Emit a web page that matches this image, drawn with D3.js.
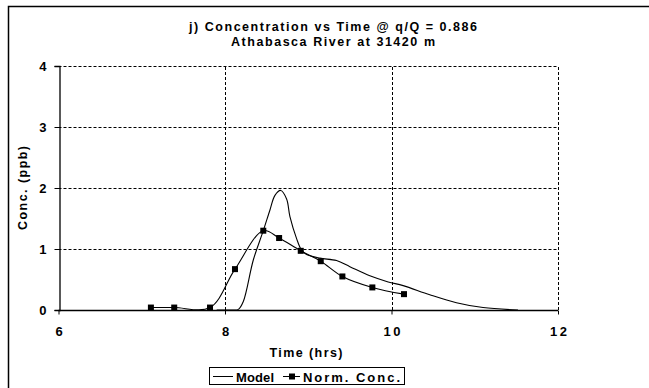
<!DOCTYPE html>
<html><head><meta charset="utf-8">
<script src="https://cdn.jsdelivr.net/npm/d3@7"></script>
<style>
body{margin:0;background:#fff;}
text{font-family:"Liberation Sans",Arial,sans-serif;font-weight:bold;fill:#000;}
</style></head><body>
<svg id="c" width="649" height="388"></svg>
<script>
const titleLines = ["j) Concentration vs Time @ q/Q = 0.886", "Athabasca River at 31420 m"];
const xTicks = [6, 8, 10, 12];
const yTicks = [0, 1, 2, 3, 4];
const modelTime = [7.90, 8.10, 8.16, 8.22, 8.34, 8.46, 8.54, 8.60, 8.67, 8.74, 8.78, 8.86, 8.92, 8.98, 9.14, 9.34, 9.50, 9.74, 9.96, 10.14, 10.46, 10.78, 11.10, 11.52];
const modelConc = [0, 0, 0.01, 0.14, 0.82, 1.30, 1.64, 1.88, 1.96, 1.82, 1.53, 1.17, 0.98, 0.91, 0.85, 0.81, 0.71, 0.56, 0.46, 0.40, 0.25, 0.12, 0.04, 0];
const obsTime = [7.11, 7.39, 7.82, 8.12, 8.46, 8.65, 8.91, 9.15, 9.41, 9.77, 10.15];
const obsConc = [0.04, 0.04, 0.04, 0.67, 1.30, 1.18, 0.97, 0.80, 0.55, 0.37, 0.26];
const seriesNames = ["Model", "Norm. Conc."];

const svg = d3.select("#c");
const x = d3.scaleLinear().domain([6, 12]).range([58.5, 558]);
const y = d3.scaleLinear().domain([0, 4]).range([310, 66]);

// stretch helper: reference text is rendered wider than Arial
function wide(sel, w) { return sel.attr("textLength", w).attr("lengthAdjust", "spacing"); }

// outer chart border (top + left visible)
svg.append("path").attr("d", "M8.5,400 L8.5,6.5 L660,6.5").attr("fill", "none").attr("stroke", "#000").attr("stroke-width", 1.5);

// gridlines
const g = svg.append("g");
yTicks.filter(d => d > 0).forEach(v => {
  g.append("line").attr("x1", x(6)).attr("x2", x(12)).attr("y1", Math.round(y(v)) + 0.5).attr("y2", Math.round(y(v)) + 0.5)
    .attr("stroke", "#000").attr("stroke-dasharray", "3,2").attr("stroke-width", 1);
});
xTicks.filter(d => d > 6).forEach(v => {
  g.append("line").attr("y1", y(0)).attr("y2", y(4)).attr("x1", Math.round(x(v)) + 0.5).attr("x2", Math.round(x(v)) + 0.5)
    .attr("stroke", "#000").attr("stroke-dasharray", "3,2").attr("stroke-width", 1);
});

// axes
const xAxis = d3.axisBottom(x).tickValues(xTicks).tickSize(4).tickFormat(d3.format("d"));
const yAxis = d3.axisLeft(y).tickValues(yTicks).tickSize(5).tickFormat(d3.format("d"));
const gx = svg.append("g").attr("transform", `translate(0,${Math.round(y(0)) + 0.5})`).call(xAxis);
const gy = svg.append("g").attr("transform", `translate(${Math.round(x(6)) + 0.5},0)`).call(yAxis);
[gx, gy].forEach(a => {
  a.select(".domain").attr("stroke", "#000").attr("stroke-width", 1.3);
  a.selectAll(".tick line").attr("stroke", "#000");
  a.selectAll(".tick text").style("font-size", "13px").style("font-family", "Liberation Sans, Arial, sans-serif").style("font-weight", "bold");
});
gx.select(".domain").attr("d", `M${x(6)},0H${x(12)}`);
gx.selectAll(".tick text").attr("dy", null).attr("y", 25).each(function(d) {
  if (String(d).length > 1) d3.select(this).attr("textLength", 17).attr("lengthAdjust", "spacing");
});
gy.selectAll(".tick text").attr("x", -13).attr("dy", "0.36em");

// lines
const modelData = modelTime.map((t, i) => [t, modelConc[i]]);
const obsData = obsTime.map((t, i) => [t, obsConc[i]]);
const line = d3.line().x(d => x(d[0])).y(d => y(d[1])).curve(d3.curveCatmullRom.alpha(0.5));
svg.append("path").attr("d", line(modelData)).attr("fill", "none").attr("stroke", "#000").attr("stroke-width", 1.1);
svg.append("path").attr("d", line(obsData)).attr("fill", "none").attr("stroke", "#000").attr("stroke-width", 1.1);
svg.selectAll("rect.m").data(obsData).enter().append("rect").attr("class", "m")
  .attr("x", d => x(d[0]) - 3).attr("y", d => y(d[1]) - 3).attr("width", 6).attr("height", 6).attr("fill", "#000");

// titles
const titleW = [288, 204];
svg.selectAll("text.t").data(titleLines).enter().append("text").attr("class", "t")
  .attr("x", 333).attr("y", (d, i) => 31 + i * 14.5).attr("text-anchor", "middle").style("font-size", "12.5px")
  .attr("textLength", (d, i) => titleW[i]).attr("lengthAdjust", "spacing").text(d => d);
wide(svg.append("text").attr("x", 306).attr("y", 357).attr("text-anchor", "middle").style("font-size", "12.5px"), 73).text("Time (hrs)");
wide(svg.append("text").attr("transform", "translate(27,188) rotate(-90)").attr("text-anchor", "middle").style("font-size", "12.5px"), 84).text("Conc. (ppb)");

// legend
const lg = svg.append("g");
lg.append("rect").attr("x", 209.5).attr("y", 367.5).attr("width", 195).attr("height", 17).attr("fill", "#fff").attr("stroke", "#000");
lg.append("line").attr("x1", 213).attr("x2", 233).attr("y1", 376.5).attr("y2", 376.5).attr("stroke", "#000");
wide(lg.append("text").attr("x", 236).attr("y", 381.5).style("font-size", "13px"), 38).text(seriesNames[0]);
lg.append("line").attr("x1", 283).attr("x2", 300).attr("y1", 376.5).attr("y2", 376.5).attr("stroke", "#000");
lg.append("rect").attr("x", 289).attr("y", 373.5).attr("width", 6).attr("height", 6).attr("fill", "#000");
wide(lg.append("text").attr("x", 303).attr("y", 381.5).style("font-size", "13px"), 97).text(seriesNames[1]);
</script></body></html>
